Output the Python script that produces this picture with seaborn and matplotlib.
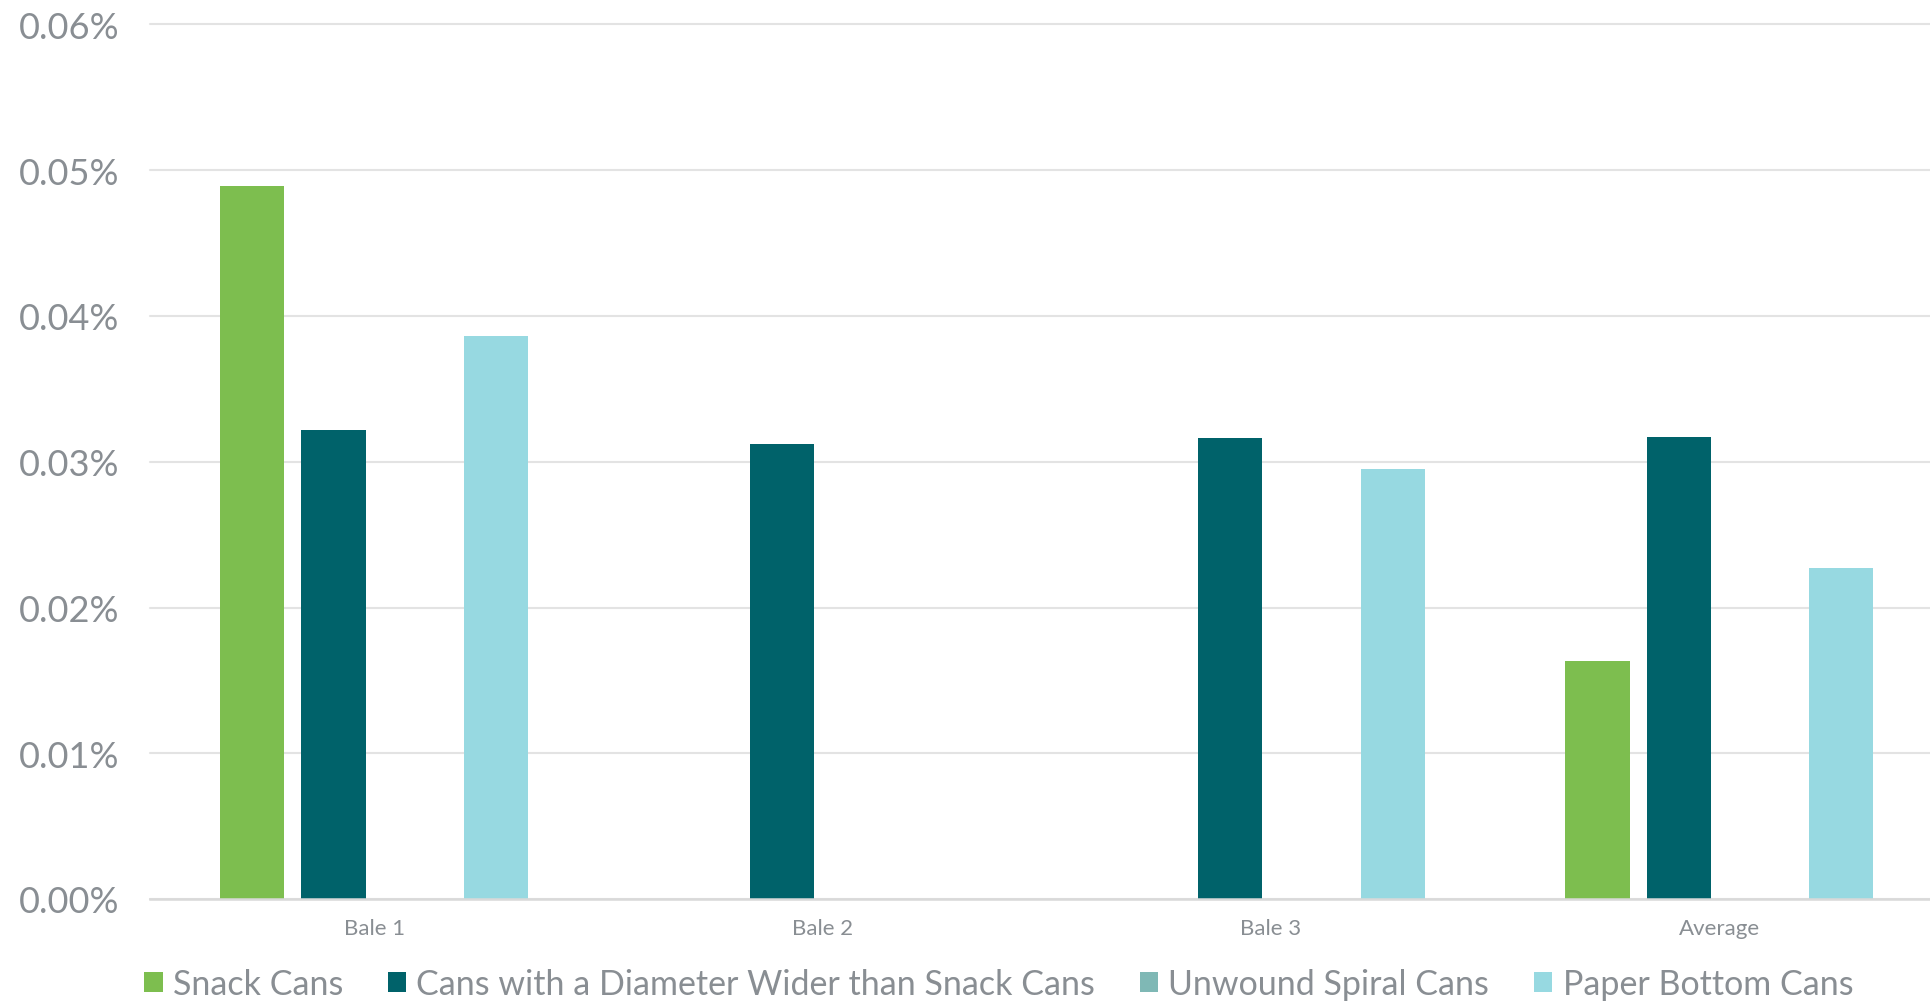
import matplotlib
matplotlib.use("Agg")
import matplotlib.pyplot as plt
import seaborn as sns
import pandas as pd
from matplotlib.patches import Patch
from matplotlib.ticker import FuncFormatter

categories = ["Bale 1", "Bale 2", "Bale 3", "Average"]
series_names = ["Snack Cans", "Cans with a Diameter Wider than Snack Cans",
                "Unwound Spiral Cans", "Paper Bottom Cans"]
snack_cans = [0.0489, 0.0, 0.0, 0.0163]
wider_cans = [0.0322, 0.0312, 0.0316, 0.0317]
unwound_spiral = [0.0, 0.0, 0.0, 0.0]
paper_bottom = [0.0386, 0.0, 0.0295, 0.0227]
y_ticks = [0.00, 0.01, 0.02, 0.03, 0.04, 0.05, 0.06]
colors = ["#7DBE4F", "#00626A", "#7FB8B5", "#97D9E1"]

rows = []
for name, vals in zip(series_names, [snack_cans, wider_cans, unwound_spiral, paper_bottom]):
    for c, v in zip(categories, vals):
        rows.append({"Bale": c, "Series": name, "Value": v})
df = pd.DataFrame(rows)

sns.set_theme(style="white")
plt.rcParams["font.family"] = ["Lato", "DejaVu Sans"]
text_color = "#898E93"

fig = plt.figure(figsize=(19.31, 10.03), dpi=100)
ax = fig.add_axes([150 / 1931, 1 - 900 / 1003, 1 - 150 / 1931, (900 - 25.5) / 1003])

sns.barplot(data=df, x="Bale", y="Value", hue="Series", order=categories,
            hue_order=series_names, palette=colors, saturation=1, width=0.725, gap=0.21,
            linewidth=0, edgecolor="none", legend=False, ax=ax, zorder=3)

ax.set_xlim(-0.5, 3.472)
ax.set_ylim(0, 0.06)
ax.set_yticks(y_ticks)
ax.yaxis.set_major_formatter(FuncFormatter(lambda v, p: f"{v:.2f}%"))
ax.grid(axis="y", color="#E3E3E3", linewidth=1.5, zorder=0)
for gl in ax.get_ygridlines():
    gl.set_clip_on(False)
ax.set_axisbelow(True)
for s in ["top", "right", "left"]:
    ax.spines[s].set_visible(False)
ax.spines["bottom"].set_color("#D9D9D9")
ax.spines["bottom"].set_linewidth(1.8)
ax.spines["bottom"].set_zorder(4)
ax.set_xlabel("")
ax.set_ylabel("")
ax.tick_params(axis="y", length=0, pad=22, labelsize=26, labelcolor=text_color)
ax.tick_params(axis="x", length=0, pad=14, labelsize=16, labelcolor=text_color)

handles = [Patch(facecolor=c, edgecolor="none", label=n) for c, n in zip(colors, series_names)]
fig.legend(handles=handles, loc="center left", bbox_to_anchor=(144 / 1931, 1 - 985 / 1003),
           ncol=4, frameon=False, fontsize=24.5, labelcolor=text_color,
           handlelength=0.55, handleheight=0.55, handletextpad=0.3,
           columnspacing=1.3, borderpad=0, borderaxespad=0)

fig.savefig("out.png", dpi=100)
